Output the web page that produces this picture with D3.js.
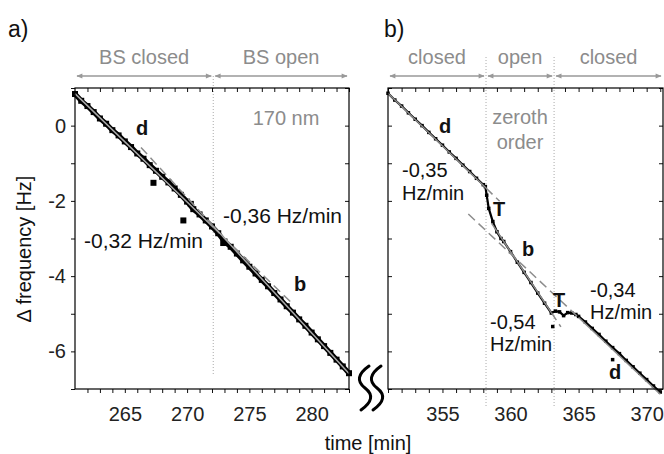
<!DOCTYPE html>
<html>
<head>
<meta charset="utf-8">
<script src="https://cdn.jsdelivr.net/npm/d3@7"></script>
<style>
  body { margin: 0; background: #fff; }
  svg { font-family: "Liberation Sans", Arial, Helvetica, sans-serif; }
  .tick text { font-size: 20px; fill: #222; }
  .tick line { stroke: #111; }
</style>
</head>
<body>
<div class="container"></div>
<script>
const W = 664, H = 454;

// ---- data ----
// panel a: time [min], delta frequency [Hz]
const timeA = [261, 261.5, 262, 262.5, 263, 263.5, 264, 264.5, 265, 265.5, 266, 266.5, 267, 267.5,
  268, 268.5, 269, 269.5, 270, 270.5, 271, 271.5, 272, 272.5, 273, 273.5, 274, 274.5, 275, 275.5,
  276, 276.5, 277, 277.5, 278, 278.5, 279, 279.5, 280, 280.5, 281, 281.5, 282, 282.5, 283];
const freqA = [0.84, 0.66, 0.52, 0.36, 0.19, 0.05, -0.12, -0.26, -0.42, -0.57, -0.74, -0.88, -1.05, -1.2,
  -1.36, -1.51, -1.67, -1.84, -2.02, -2.22, -2.36, -2.52, -2.68, -2.86, -3.08, -3.22, -3.4, -3.58, -3.75, -3.93,
  -4.1, -4.27, -4.45, -4.62, -4.8, -4.97, -5.15, -5.32, -5.5, -5.68, -5.86, -6.04, -6.22, -6.4, -6.58];
const outlierTimeA = [267.3, 269.7, 270.3, 272.9];
const outlierFreqA = [-1.52, -2.52, -2.08, -3.12];

// panel b
const timeB = [351, 351.5, 352, 352.5, 353, 353.5, 354, 354.5, 355, 355.5, 356, 356.5, 357, 357.5,
  358, 358.15, 358.25, 358.4, 358.7, 359, 359.3, 359.5, 360, 360.5, 361, 361.5, 362, 362.5, 363,
  363.3, 363.6, 363.9, 364.2, 364.5, 364.8, 365, 365.5, 366, 366.5, 367, 367.5, 368, 368.5, 369,
  369.5, 370, 370.5, 371];
const freqB = [0.86, 0.68, 0.52, 0.34, 0.17, 0, -0.18, -0.35, -0.52, -0.7, -0.87, -1.05, -1.22, -1.4,
  -1.57, -1.62, -1.85, -2.2, -2.55, -2.82, -3.0, -3.08, -3.35, -3.63, -3.9, -4.17, -4.45, -4.72, -4.98,
  -4.93, -4.95, -5.05, -4.97, -4.98, -5.02, -5.07, -5.22, -5.39, -5.55, -5.73, -5.9, -6.06, -6.24, -6.41,
  -6.58, -6.75, -6.92, -7.08];
const outlierTimeB = [363.1, 367.5];
const outlierFreqB = [-5.34, -6.22];

// fitted slopes: [t0, v0, t1, v1, dashed]
const fitsA = [
  [261, 0.85, 272.1, -2.70, false],
  [272.1, -2.70, 278.3, -4.68, true],
  [266.3, -0.58, 272.1, -2.67, true],
  [272.1, -2.67, 283, -6.59, false]
];
const fitsB = [
  [351, 0.86, 358.2, -1.66, false],
  [358.2, -1.66, 359.2, -2.01, true],
  [358.6, -2.59, 363, -4.97, false],
  [363, -4.97, 363.7, -5.35, true],
  [356.9, -2.35, 365, -5.10, true],
  [365, -5.10, 371, -7.14, false]
];

// shutter state sections
const sectionsA = [[261, 272.1], [272.1, 283]];
const sectionNamesA = ["BS closed", "BS open"];
const sectionsB = [[351, 358.2], [358.2, 363.2], [363.2, 371.2]];
const sectionNamesB = ["closed", "open", "closed"];

const yTicks = [-7, -6, -5, -4, -3, -2, -1, 0, 1];
const xTicksA = d3.range(262, 284);
const xTicksB = d3.range(351, 372);

// ---- layout ----
const xA = d3.scaleLinear().domain([261, 283]).range([75, 349]);
const xB = d3.scaleLinear().domain([351, 371.2]).range([388, 663]);
const y = d3.scaleLinear().domain([-7, 1]).range([389, 88]);

const grey = "#8c8c8c";

const svg = d3.select('.container')
  .append('svg')
  .attr('width', W)
  .attr('height', H);

const defs = svg.append('defs');
defs.append('marker')
  .attr('id', 'arr')
  .attr('viewBox', '0 0 10 10')
  .attr('refX', 9).attr('refY', 5)
  .attr('markerWidth', 7).attr('markerHeight', 6)
  .attr('markerUnits', 'userSpaceOnUse')
  .attr('orient', 'auto-start-reverse')
  .append('path')
  .attr('d', 'M0,1 L10,5 L0,9 Z')
  .attr('fill', '#999');

function panel(x, time, freq, oTime, oFreq, fits, sections, names, dividers, opt) {
  const G = svg.append('g');
  const [x0, x1] = x.range();

  // dotted dividers
  G.selectAll('line.div')
    .data(dividers)
    .join('line')
    .attr('class', 'div')
    .attr('x1', d => x(d)).attr('x2', d => x(d))
    .attr('y1', opt.divTop).attr('y2', opt.divBottom)
    .style('stroke', '#aaa')
    .style('stroke-width', 1)
    .style('stroke-dasharray', '1,2');

  // header arrows and names
  G.selectAll('line.arrow')
    .data(sections)
    .join('line')
    .attr('class', 'arrow')
    .attr('x1', d => x(d[0]) + 2).attr('x2', d => x(d[1]) - 2)
    .attr('y1', 76).attr('y2', 76)
    .style('stroke', '#999')
    .style('stroke-width', 1.5)
    .attr('marker-start', 'url(#arr)')
    .attr('marker-end', 'url(#arr)');

  G.selectAll('text.head')
    .data(sections)
    .join('text')
    .attr('class', 'head')
    .attr('x', d => (x(d[0]) + x(d[1])) / 2)
    .attr('y', 64)
    .attr('text-anchor', 'middle')
    .style('font-size', '20px')
    .style('fill', grey)
    .text((d, i) => names[i]);

  // data as a jagged band of squares
  const pts = time.map((t, i) => [t, freq[i]]);
  G.append('path')
    .datum(pts)
    .attr('d', d3.line().x(d => x(d[0])).y(d => y(d[1])))
    .style('fill', 'none')
    .style('stroke', '#000')
    .style('stroke-width', opt.lineW);

  const opts = pts.concat(oTime.map((t, i) => [t, oFreq[i]]));
  G.selectAll('rect.pt')
    .data(opts)
    .join('rect')
    .attr('class', 'pt')
    .attr('x', d => x(d[0]) - opt.sq / 2)
    .attr('y', d => y(d[1]) - opt.sq / 2)
    .attr('width', opt.sq).attr('height', opt.sq)
    .style('fill', '#000');

  // fit lines
  G.selectAll('line.fit')
    .data(fits)
    .join('line')
    .attr('class', 'fit')
    .attr('x1', d => x(d[0])).attr('y1', d => y(d[1]))
    .attr('x2', d => x(d[2])).attr('y2', d => y(d[3]))
    .style('stroke', d => d[4] ? grey : opt.fitColor)
    .style('stroke-width', 1.5)
    .style('stroke-dasharray', d => d[4] ? '9,5' : null);

  // axes
  const bottom = G.append('g')
    .attr('transform', 'translate(0,' + y.range()[0] + ')')
    .call(d3.axisBottom(x).tickValues(opt.xTicks).tickSize(4).tickPadding(14)
      .tickFormat(d => d % 5 === 0 ? d : ''));
  const top = G.append('g')
    .attr('transform', 'translate(0,' + y.range()[1] + ')')
    .call(d3.axisTop(x).tickValues(opt.xTicks).tickSize(-4).tickFormat(''));
  const left = G.append('g')
    .attr('transform', 'translate(' + x0 + ',0)')
    .call(d3.axisLeft(y).tickValues(yTicks).tickSize(opt.leftTick).tickPadding(5)
      .tickFormat(d => opt.yLabels && d % 2 === 0 ? String(d) : ''));
  const right = G.append('g')
    .attr('transform', 'translate(' + x1 + ',0)')
    .call(d3.axisRight(y).tickValues(yTicks).tickSize(-4).tickFormat(''));
  [bottom, top, left, right].forEach(a => a.select('.domain').remove());

  G.append('rect')
    .attr('x', x0).attr('y', y.range()[1])
    .attr('width', x1 - x0).attr('height', y.range()[0] - y.range()[1])
    .style('fill', 'none')
    .style('stroke', '#000')
    .style('stroke-width', 1.2);

  return G;
}

const GA = panel(xA, timeA, freqA, outlierTimeA, outlierFreqA, fitsA, sectionsA, sectionNamesA, [272.1],
  { divTop: 76, divBottom: 375, xTicks: xTicksA, leftTick: 4, yLabels: true, sq: 6, lineW: 5, fitColor: '#a8a8a8' });
const GB = panel(xB, timeB, freqB, outlierTimeB, outlierFreqB, fitsB, sectionsB, sectionNamesB, [358.2, 363.2],
  { divTop: 57, divBottom: 408, xTicks: xTicksB, leftTick: -4, yLabels: false, sq: 3.5, lineW: 2.2, fitColor: grey });

// annotations
function label(x, yy, s, o = {}) {
  svg.append('text')
    .attr('x', x).attr('y', yy)
    .attr('text-anchor', o.anchor || 'start')
    .style('font-size', (o.size || 20) + 'px')
    .style('font-weight', o.bold ? 'bold' : null)
    .style('fill', o.fill || '#111')
    .text(s);
}

label(8, 37, 'a)', { size: 23 });
label(384, 37, 'b)', { size: 23 });

label(286, 125, '170 nm', { anchor: 'middle', fill: grey });
label(142, 135, 'd', { anchor: 'middle', bold: true });
label(223, 223, '-0,36 Hz/min', { size: 21 });
label(84, 248, '-0,32 Hz/min', { size: 21 });
label(300, 291, 'b', { anchor: 'middle', bold: true });

label(520, 124, 'zeroth', { anchor: 'middle', fill: grey });
label(520, 149, 'order', { anchor: 'middle', fill: grey });
label(445, 133, 'd', { anchor: 'middle', bold: true });
label(402, 177, '-0,35');
label(402, 200, 'Hz/min');
label(499, 216, 'T', { anchor: 'middle', bold: true });
label(528, 256, 'b', { anchor: 'middle', bold: true });
label(590, 297, '-0,34');
label(590, 319, 'Hz/min');
label(559, 307, 'T', { anchor: 'middle', bold: true });
label(490, 329, '-0,54');
label(490, 351, 'Hz/min');
label(615, 379, 'd', { anchor: 'middle', bold: true });

// axis titles
label(368, 450, 'time [min]', { anchor: 'middle' });
svg.append('text')
  .attr('transform', 'translate(31,249) rotate(-90)')
  .attr('text-anchor', 'middle')
  .style('font-size', '20px')
  .style('fill', '#111')
  .text('\u0394 frequency [Hz]');

// axis break mark
[0, 12].forEach(dx => {
  svg.append('path')
    .attr('d', `M${369 + dx},366 Q${352 + dx},378 ${365 + dx},388 T${361 + dx},410`)
    .style('fill', 'none')
    .style('stroke', '#000')
    .style('stroke-width', 3)
    .style('stroke-linecap', 'round');
});
</script>
</body>
</html>
